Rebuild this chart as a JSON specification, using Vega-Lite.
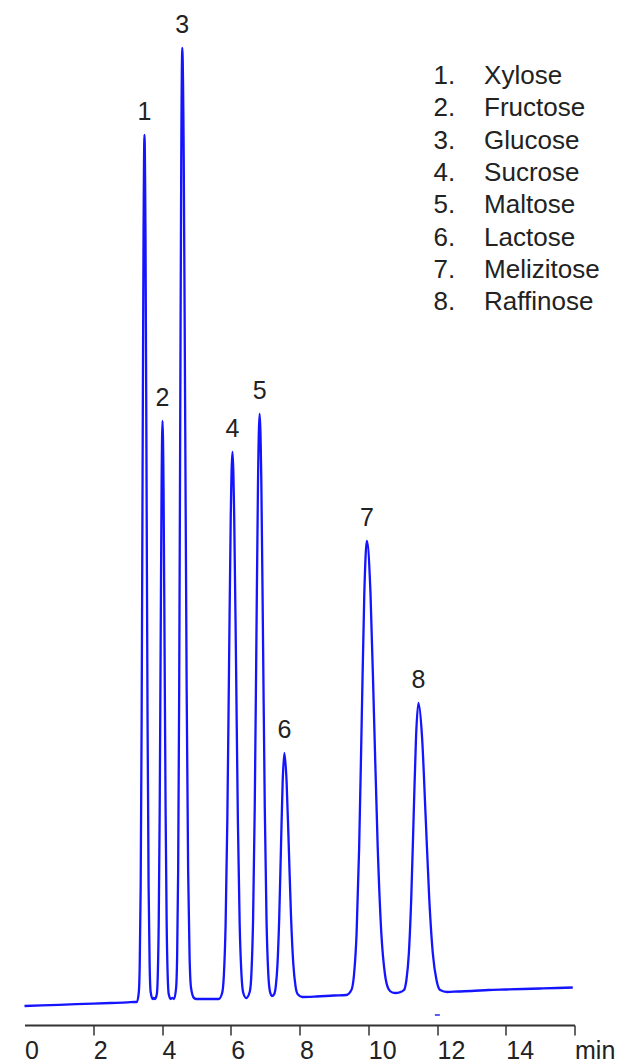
{
  "$schema": "https://vega.github.io/schema/vega-lite/v6.json",
  "width": 550,
  "height": 1025,
  "autosize": "none",
  "padding": {"left": 24.5, "top": 0, "right": 45.5, "bottom": 39},
  "background": "white",
  "config": {"view": {"stroke": null}, "font": "Liberation Sans"},
  "datasets": {
    "trace": [
      {"t": 0.0, "s": 19}, {"t": 0.5, "s": 19.6}, {"t": 1.0, "s": 20.2}, {"t": 1.5, "s": 20.8}, {"t": 2.0, "s": 21.4}, {"t": 2.5, "s": 22}, {"t": 3.0, "s": 22.6}, {"t": 3.2, "s": 23},
      {"t": 3.27, "s": 23}, {"t": 3.325, "s": 32.6}, {"t": 3.3525, "s": 61}, {"t": 3.38, "s": 140}, {"t": 3.4075, "s": 304}, {"t": 3.435, "s": 549}, {"t": 3.4625, "s": 788}, {"t": 3.49, "s": 890}, {"t": 3.52, "s": 788}, {"t": 3.55, "s": 549}, {"t": 3.58, "s": 304}, {"t": 3.61, "s": 140}, {"t": 3.64, "s": 61}, {"t": 3.67, "s": 33}, {"t": 3.73, "s": 26}, {"t": 3.76, "s": 27},
      {"t": 3.795, "s": 26}, {"t": 3.85, "s": 31}, {"t": 3.8775, "s": 50}, {"t": 3.905, "s": 103}, {"t": 3.9325, "s": 213}, {"t": 3.96, "s": 376}, {"t": 3.9875, "s": 536}, {"t": 4.015, "s": 604}, {"t": 4.045, "s": 536}, {"t": 4.075, "s": 376}, {"t": 4.105, "s": 213}, {"t": 4.135, "s": 103}, {"t": 4.165, "s": 50}, {"t": 4.195, "s": 31}, {"t": 4.255, "s": 26}, {"t": 4.3, "s": 27},
      {"t": 4.35, "s": 26}, {"t": 4.41, "s": 37}, {"t": 4.44, "s": 68}, {"t": 4.47, "s": 155}, {"t": 4.5, "s": 335}, {"t": 4.53, "s": 603}, {"t": 4.56, "s": 865}, {"t": 4.59, "s": 977}, {"t": 4.6325, "s": 865}, {"t": 4.675, "s": 603}, {"t": 4.7175, "s": 335}, {"t": 4.76, "s": 155}, {"t": 4.8025, "s": 68}, {"t": 4.845, "s": 37}, {"t": 4.93, "s": 27}, {"t": 5.0, "s": 26},
      {"t": 5.3, "s": 26}, {"t": 5.65, "s": 26},
      {"t": 5.75, "s": 32}, {"t": 5.8, "s": 50}, {"t": 5.85, "s": 100}, {"t": 5.9, "s": 204}, {"t": 5.95, "s": 358}, {"t": 6.0, "s": 509}, {"t": 6.05, "s": 573}, {"t": 6.1, "s": 509}, {"t": 6.155, "s": 358}, {"t": 6.2075, "s": 204}, {"t": 6.26, "s": 100}, {"t": 6.3125, "s": 50}, {"t": 6.365, "s": 32}, {"t": 6.45, "s": 27},
      {"t": 6.555, "s": 33.5}, {"t": 6.6025, "s": 52.6}, {"t": 6.65, "s": 106}, {"t": 6.6975, "s": 217}, {"t": 6.745, "s": 381}, {"t": 6.7925, "s": 542}, {"t": 6.84, "s": 611}, {"t": 6.89, "s": 542}, {"t": 6.94, "s": 381}, {"t": 6.99, "s": 217}, {"t": 7.04, "s": 106}, {"t": 7.09, "s": 52.6}, {"t": 7.14, "s": 33.5}, {"t": 7.2, "s": 29},
      {"t": 7.26, "s": 30.7}, {"t": 7.31, "s": 38.7}, {"t": 7.36, "s": 61}, {"t": 7.41, "s": 107}, {"t": 7.46, "s": 176}, {"t": 7.51, "s": 243}, {"t": 7.56, "s": 272}, {"t": 7.625, "s": 243}, {"t": 7.69, "s": 176}, {"t": 7.755, "s": 107}, {"t": 7.82, "s": 61}, {"t": 7.885, "s": 38.7}, {"t": 7.95, "s": 30.7}, {"t": 8.08, "s": 28},
      {"t": 8.5, "s": 28.5}, {"t": 9.0, "s": 29.5}, {"t": 9.36, "s": 30},
      {"t": 9.51, "s": 35}, {"t": 9.585, "s": 50}, {"t": 9.66, "s": 91}, {"t": 9.735, "s": 177}, {"t": 9.81, "s": 305}, {"t": 9.885, "s": 431}, {"t": 9.96, "s": 484}, {"t": 10.065, "s": 432}, {"t": 10.17, "s": 306}, {"t": 10.275, "s": 178}, {"t": 10.38, "s": 92}, {"t": 10.485, "s": 51}, {"t": 10.59, "s": 36}, {"t": 10.7, "s": 32.5}, {"t": 10.8, "s": 32}, {"t": 10.9, "s": 32.5},
      {"t": 11.04, "s": 35}, {"t": 11.11, "s": 45}, {"t": 11.18, "s": 71}, {"t": 11.25, "s": 126}, {"t": 11.32, "s": 208}, {"t": 11.39, "s": 288}, {"t": 11.46, "s": 322}, {"t": 11.565, "s": 288}, {"t": 11.67, "s": 208}, {"t": 11.775, "s": 126}, {"t": 11.88, "s": 71}, {"t": 11.985, "s": 45}, {"t": 12.09, "s": 35}, {"t": 12.3, "s": 33},
      {"t": 12.6, "s": 33.5}, {"t": 13.0, "s": 34}, {"t": 13.5, "s": 35}, {"t": 14.0, "s": 35.5}, {"t": 14.5, "s": 36}, {"t": 15.0, "s": 36.5}, {"t": 15.5, "s": 37}, {"t": 15.95, "s": 37.5}
    ],
    "peaks": [
      {"peak": "1", "t": 3.49, "s": 890, "entry": "1.\u00a0\u00a0\u00a0\u00a0Xylose"},
      {"peak": "2", "t": 4.015, "s": 604, "entry": "2.\u00a0\u00a0\u00a0\u00a0Fructose"},
      {"peak": "3", "t": 4.59, "s": 977, "entry": "3.\u00a0\u00a0\u00a0\u00a0Glucose"},
      {"peak": "4", "t": 6.05, "s": 573, "entry": "4.\u00a0\u00a0\u00a0\u00a0Sucrose"},
      {"peak": "5", "t": 6.84, "s": 611, "entry": "5.\u00a0\u00a0\u00a0\u00a0Maltose"},
      {"peak": "6", "t": 7.56, "s": 272, "entry": "6.\u00a0\u00a0\u00a0\u00a0Lactose"},
      {"peak": "7", "t": 9.96, "s": 484, "entry": "7.\u00a0\u00a0\u00a0\u00a0Melizitose"},
      {"peak": "8", "t": 11.46, "s": 322, "entry": "8.\u00a0\u00a0\u00a0\u00a0Raffinose"}
    ],
    "events": [{"t": 12.01, "s": 10}]
  },
  "layer": [
    {
      "data": {"name": "trace"},
      "mark": {"type": "line", "color": "#1414ff", "strokeWidth": 2.3, "interpolate": "monotone"},
      "encoding": {
        "x": {
          "field": "t", "type": "quantitative",
          "scale": {"domain": [0, 16], "nice": false, "zero": false},
          "axis": {
            "title": null, "grid": false,
            "values": [0, 2, 4, 6, 8, 10, 12, 14, 16],
            "labelExpr": "datum.value == 16 ? 'min' : datum.label",
            "domainColor": "#333333", "domainWidth": 2,
            "tickColor": "#333333", "tickWidth": 1.5, "tickSize": 10,
            "tickOpacity": {"condition": {"test": "datum.value == 0", "value": 0}, "value": 1},
            "labelFontSize": 25, "labelColor": "#222222",
            "labelAlign": "left", "labelDx": -6,
            "labelBaseline": "alphabetic", "labelPadding": 23,
            "labelFlush": false, "labelOverlap": false
          }
        },
        "y": {
          "field": "s", "type": "quantitative",
          "scale": {"domain": [0, 1025], "nice": false, "zero": false},
          "axis": null
        }
      }
    },
    {
      "data": {"name": "events"},
      "mark": {"type": "tick", "orient": "horizontal", "color": "#1414ff", "size": 5, "thickness": 2},
      "encoding": {
        "x": {"field": "t", "type": "quantitative"},
        "y": {"field": "s", "type": "quantitative"}
      }
    },
    {
      "data": {"name": "peaks"},
      "mark": {"type": "text", "fontSize": 25, "align": "center", "baseline": "middle", "dy": -23},
      "encoding": {
        "x": {"field": "t", "type": "quantitative"},
        "y": {"field": "s", "type": "quantitative"},
        "text": {"field": "peak"},
        "color": {
          "field": "entry", "type": "nominal",
          "scale": {"range": ["#222222"]},
          "legend": {
            "orient": "none", "legendX": 383, "legendY": 63,
            "title": null, "symbolOpacity": 0, "symbolSize": 0, "symbolStrokeWidth": 0,
            "labelFontSize": 26, "labelColor": "#222222", "labelOffset": 0,
            "rowPadding": 6.3, "padding": 0, "labelLimit": 400
          }
        }
      }
    }
  ]
}
